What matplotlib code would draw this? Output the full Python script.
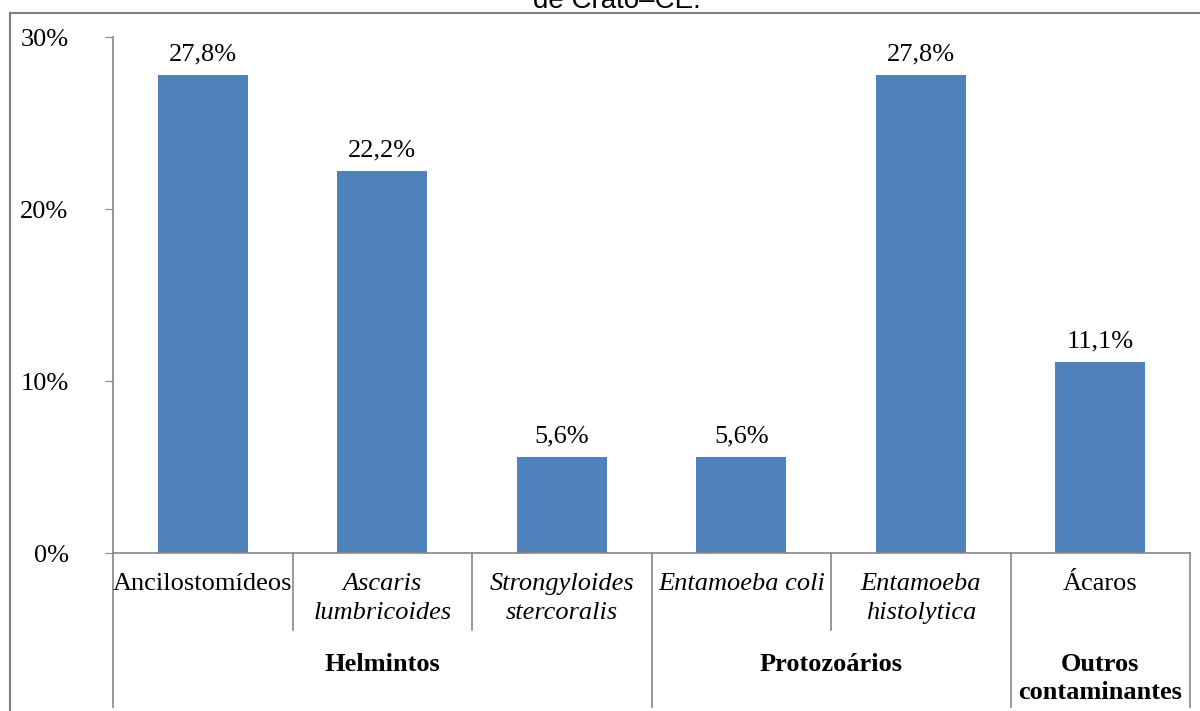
import matplotlib.pyplot as plt
import matplotlib.transforms as mtransforms
from matplotlib.lines import Line2D

plt.rcParams['font.family'] = ['Liberation Serif', 'DejaVu Serif']

especies = ['Ancilostomídeos', 'Ascaris\nlumbricoides', 'Strongyloides\nstercoralis',
            'Entamoeba coli', 'Entamoeba\nhistolytica', 'Ácaros']
italico = [False, True, True, True, True, False]
valores = [27.8, 22.2, 5.6, 5.6, 27.8, 11.1]
grupos = ['Helmintos', 'Protozoários', 'Outros\ncontaminantes']
grupo_inicio = [0, 3, 5]
grupo_fim = [2, 4, 5]
yticks = [0, 10, 20, 30]

azul = '#4F81BD'
cinza = '#868686'
fs = 19

fig = plt.figure(figsize=(12, 7.11), dpi=100)
ax = fig.add_axes([113 / 1200, 1 - 553 / 711, (1190 - 113) / 1200, (553 - 37) / 711])

x = list(range(len(especies)))
ax.bar(x, valores, width=0.5, color=azul, zorder=2)

for xi, v in zip(x, valores):
    ax.annotate(f'{v:.1f}%'.replace('.', ','), (xi, v), xytext=(0, 7),
                textcoords='offset points', ha='center', va='bottom', fontsize=fs)

ax.set_xlim(-0.5, len(especies) - 0.5)
ax.set_ylim(0, 30)
ax.set_yticks(yticks)
ax.set_yticklabels([f'{t}%' for t in yticks], fontsize=fs)
ax.tick_params(axis='y', direction='out', length=6, color=cinza, pad=26)
ax.set_xticks([])

for s in ['top', 'right']:
    ax.spines[s].set_visible(False)
for s in ['left', 'bottom']:
    ax.spines[s].set_color(cinza)
    ax.spines[s].set_linewidth(1.2)

trans = mtransforms.blended_transform_factory(ax.transData, ax.transAxes)

# rótulos das espécies
for xi, nome, it in zip(x, especies, italico):
    ax.text(xi, -0.039, nome, transform=trans, ha='center', va='top',
            fontsize=fs, style='italic' if it else 'normal', linespacing=1.4)

# linhas divisórias abaixo do eixo
longas = [-0.5] + [g + 0.5 for g in grupo_fim]
for b in [i - 0.5 for i in range(len(especies) + 1)]:
    fundo = -0.298 if b in longas else -0.149
    ax.add_line(Line2D([b, b], [0, fundo], transform=trans, color=cinza,
                       lw=1.2, clip_on=False))

# rótulos dos grupos
for nome, a, b in zip(grupos, grupo_inicio, grupo_fim):
    ax.text((a + b) / 2, -0.193, nome, transform=trans, ha='center', va='top',
            fontsize=fs, fontweight='bold', linespacing=1.3)

# moldura e título cortado
fig.add_artist(Line2D([10 / 1200, 1], [1 - 13 / 711, 1 - 13 / 711], transform=fig.transFigure,
                      color='#7f7f7f', lw=1.5))
fig.add_artist(Line2D([10 / 1200, 10 / 1200], [0, 1 - 13 / 711], transform=fig.transFigure,
                      color='#7f7f7f', lw=1.5))
fig.text(617 / 1200, 1 - 8 / 711, 'de Crato–CE.', ha='center', va='baseline',
         fontsize=20, family=['Liberation Sans', 'DejaVu Sans'])

fig.savefig('out.png', dpi=100)
